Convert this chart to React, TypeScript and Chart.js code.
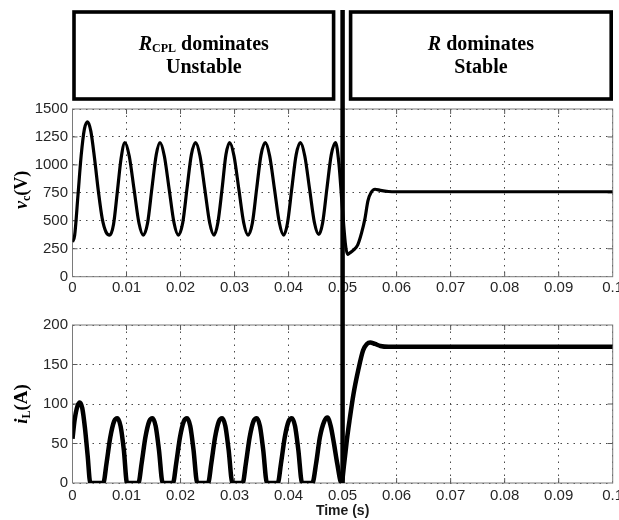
import { useEffect, useRef } from 'react';
import { Chart, registerables } from 'chart.js';

Chart.register(...registerables);

// Time axis (s)
const timeTicks = [0, 0.01, 0.02, 0.03, 0.04, 0.05, 0.06, 0.07, 0.08, 0.09, 0.1];
const timeTickLabels = ['0', '0.01', '0.02', '0.03', '0.04', '0.05', '0.06', '0.07', '0.08', '0.09', '0.1'];

// Capacitor voltage axis (V)
const vcTicks = [0, 250, 500, 750, 1000, 1250, 1500];
const vcTickLabels = ['0', '250', '500', '750', '1000', '1250', '1500'];

// Inductor current axis (A)
const iLTicks = [0, 50, 100, 150, 200];
const iLTickLabels = ['0', '50', '100', '150', '200'];

// Instant at which the load changes over
const switchTime = 0.05;

// Capacitor voltage v_c
const vcTime = [
  0, 0.0004, 0.001, 0.0016, 0.0022, 0.0028, 0.0034, 0.0041, 0.0048, 0.0055, 0.0062, 0.0069,
  0.0076, 0.0083, 0.009, 0.0097, 0.0105, 0.0114, 0.0123, 0.0131,
  0.0139, 0.0147, 0.0155, 0.0162, 0.017, 0.0179, 0.0188, 0.0196,
  0.0204, 0.0212, 0.022, 0.0228, 0.0236, 0.0245, 0.0254, 0.0262,
  0.0269, 0.0277, 0.0284, 0.0291, 0.0299, 0.0308, 0.0317, 0.0325,
  0.0333, 0.0341, 0.0349, 0.0357, 0.0365, 0.0374, 0.0383, 0.0391,
  0.0398, 0.0406, 0.0414, 0.0422, 0.043, 0.0439, 0.0448, 0.0456,
  0.0463, 0.0471, 0.0479, 0.0487, 0.0493, 0.0499, 0.0505, 0.0509,
  0.0513, 0.052, 0.0528, 0.0535, 0.0541, 0.0547, 0.0553, 0.056, 0.057, 0.0585, 0.06, 0.1,
];
const vcVolts = [
  310, 370, 720, 1080, 1320, 1385, 1300, 1050, 760, 520, 400, 372,
  470, 760, 1060, 1200, 1080, 780, 480, 372,
  480, 790, 1090, 1200, 1080, 780, 480, 372,
  480, 790, 1090, 1200, 1080, 780, 480, 372,
  480, 790, 1090, 1200, 1080, 780, 480, 372,
  480, 790, 1090, 1200, 1080, 780, 480, 372,
  480, 790, 1090, 1200, 1080, 780, 480, 378,
  480, 790, 1090, 1200, 1020, 650, 300, 200,
  212, 238, 285, 390, 510, 680, 755, 782, 772, 762, 760, 760,
];

// Inductor current i_L
const iLTime = [
  0, 0.0004, 0.0009, 0.00135, 0.0018, 0.0023, 0.0028, 0.0033, 0.0057,
  0.0063, 0.007, 0.0077, 0.0083, 0.0089, 0.0095, 0.0101, 0.0122,
  0.0128, 0.0135, 0.0142, 0.0148, 0.0154, 0.016, 0.0167, 0.0186,
  0.0192, 0.0199, 0.0206, 0.0212, 0.0218, 0.0224, 0.0231, 0.0251,
  0.0257, 0.0264, 0.0271, 0.0277, 0.0283, 0.0289, 0.0296, 0.0315,
  0.0321, 0.0328, 0.0335, 0.0341, 0.0347, 0.0353, 0.036, 0.038,
  0.0386, 0.0393, 0.04, 0.0406, 0.0412, 0.0418, 0.0425, 0.0444,
  0.0451, 0.0458, 0.0466, 0.0472, 0.0478, 0.0484, 0.049, 0.0498,
  0.0503, 0.0508, 0.0513, 0.052, 0.0529, 0.0538, 0.0545, 0.0551, 0.056, 0.057, 0.0585, 0.1,
];
const iLAmps = [
  56, 80, 97, 102, 95, 70, 35, 0, 0,
  25, 58, 78, 82, 72, 42, 0, 0,
  25, 58, 78, 82, 72, 42, 0, 0,
  25, 58, 78, 82, 72, 42, 0, 0,
  25, 58, 78, 82, 72, 42, 0, 0,
  25, 58, 78, 82, 72, 42, 0, 0,
  25, 58, 78, 82, 72, 42, 0, 0,
  25, 58, 78, 83, 72, 50, 25, 0,
  25, 55, 80, 112, 143, 168, 176, 178, 176, 173.5, 172.5, 172.5,
];

// Operating-region captions above the voltage plot
const regionSymbols = ['R', 'R'];
const regionSubscripts = ['CPL', ''];
const regionVerbs = [' dominates', ' dominates'];
const regionStates = ['Unstable', 'Stable'];

const serif = "'Liberation Serif', 'Times New Roman', serif";
const sans = "'Liberation Sans', Arial, sans-serif";

type Run = { text: string; font: string; dy?: number };

function drawRuns(ctx: CanvasRenderingContext2D, runs: Run[], cx: number, baseline: number) {
  let total = 0;
  const widths: number[] = [];
  for (const r of runs) {
    ctx.font = r.font;
    const w = ctx.measureText(r.text).width;
    widths.push(w);
    total += w;
  }
  let x = cx - total / 2;
  ctx.textAlign = 'left';
  ctx.textBaseline = 'alphabetic';
  runs.forEach((r, i) => {
    ctx.font = r.font;
    ctx.fillText(r.text, x, baseline + (r.dy || 0));
    x += widths[i];
  });
}

type DecorConfig = {
  id: string;
  yTicks: number[];
  title: Run[];
  titleX: number;
  titleShift: number;
  regions: boolean;
  lineTop: number;
  lineToCanvasBottom: boolean;
};

function decorPlugin(cfg: DecorConfig) {
  return {
    id: cfg.id,
    beforeDatasetsDraw(chart: any) {
      const { ctx, chartArea: a, scales } = chart;
      const xs = scales.x;
      const ys = scales.y;
      ctx.save();
      // plot box
      ctx.strokeStyle = '#7a7a7a';
      ctx.lineWidth = 1;
      ctx.strokeRect(a.left, a.top, a.right - a.left, a.bottom - a.top);
      // inward tick marks on all four sides
      ctx.strokeStyle = '#5a5a5a';
      ctx.beginPath();
      for (const t of timeTicks.slice(1, -1)) {
        const px = xs.getPixelForValue(t);
        ctx.moveTo(px, a.bottom);
        ctx.lineTo(px, a.bottom - 5);
        ctx.moveTo(px, a.top);
        ctx.lineTo(px, a.top + 5);
      }
      for (const v of cfg.yTicks.slice(1, -1)) {
        const py = ys.getPixelForValue(v);
        ctx.moveTo(a.left, py);
        ctx.lineTo(a.left + 5, py);
        ctx.moveTo(a.right, py);
        ctx.lineTo(a.right - 5, py);
      }
      ctx.stroke();
      ctx.restore();
    },
    afterDatasetsDraw(chart: any) {
      const { ctx, chartArea: a, scales } = chart;
      const xs = scales.x;
      const xSwitch = xs.getPixelForValue(switchTime);
      ctx.save();
      ctx.fillStyle = '#000';
      ctx.strokeStyle = '#000';

      // switching instant
      ctx.lineWidth = 4.5;
      ctx.beginPath();
      ctx.moveTo(xSwitch, cfg.lineTop);
      ctx.lineTo(xSwitch, cfg.lineToCanvasBottom ? chart.height : a.bottom);
      ctx.stroke();

      if (cfg.regions) {
        const x0 = xs.getPixelForValue(timeTicks[0]);
        const x1 = xs.getPixelForValue(timeTicks[timeTicks.length - 1]);
        const boxes = [
          [x0 + 1.5, xSwitch - 9],
          [xSwitch + 8, x1 - 1.5],
        ];
        ctx.lineWidth = 3.6;
        boxes.forEach(([l, r], i) => {
          ctx.strokeRect(l, 12, r - l, 87);
          const cx = (l + r) / 2;
          const line1: Run[] = [{ text: regionSymbols[i], font: `italic bold 20px ${serif}` }];
          if (regionSubscripts[i]) {
            line1.push({ text: regionSubscripts[i], font: `bold 12px ${serif}`, dy: 2 });
          }
          line1.push({ text: regionVerbs[i], font: `bold 20px ${serif}` });
          drawRuns(ctx, line1, cx, 50);
          drawRuns(ctx, [{ text: regionStates[i], font: `bold 20px ${serif}` }], cx, 73);
        });
      }

      // rotated y-axis title
      ctx.save();
      ctx.translate(cfg.titleX, (a.top + a.bottom) / 2 + cfg.titleShift);
      ctx.rotate(-Math.PI / 2);
      drawRuns(ctx, cfg.title, 0, 6);
      ctx.restore();

      ctx.restore();
    },
  };
}

const tickFont = { family: sans, size: 15, lineHeight: 1 };
const tickColor = '#262626';
const gridColor = '#4a4a4a';

function buildOptions(
  yTicks: number[],
  yLabels: string[],
  tickPad: number,
  xAxisHeight: number,
  pad: any,
  withTitle: boolean,
): any {
  return {
    responsive: false,
    animation: false,
    events: [],
    layout: { padding: pad },
    plugins: { legend: { display: false }, tooltip: { enabled: false } },
    elements: { point: { radius: 0 } },
    scales: {
      x: {
        type: 'linear',
        min: timeTicks[0],
        max: timeTicks[timeTicks.length - 1],
        afterBuildTicks: (s: any) => {
          s.ticks = timeTicks.map((v) => ({ value: v }));
        },
        afterFit: (s: any) => {
          s.height = xAxisHeight;
        },
        ticks: {
          font: tickFont,
          color: tickColor,
          padding: tickPad,
          maxRotation: 0,
          autoSkip: false,
          callback: (_v: any, i: number) => timeTickLabels[i],
        },
        grid: { color: gridColor, lineWidth: 1, drawTicks: false },
        border: { display: false, dash: [1.5, 5] },
        title: withTitle
          ? {
              display: true,
              text: 'Time (s)',
              font: { family: sans, size: 14, weight: 'bold', lineHeight: 1.2 },
              color: '#1a1a1a',
              padding: { top: 0, bottom: 0 },
            }
          : { display: false },
      },
      y: {
        type: 'linear',
        min: yTicks[0],
        max: yTicks[yTicks.length - 1],
        afterBuildTicks: (s: any) => {
          s.ticks = yTicks.map((v) => ({ value: v }));
        },
        afterFit: (s: any) => {
          s.width = 72.5;
        },
        ticks: {
          font: tickFont,
          color: tickColor,
          padding: 4.5,
          autoSkip: false,
          callback: (_v: any, i: number) => yLabels[i],
        },
        grid: { color: gridColor, lineWidth: 1, drawTicks: false },
        border: { display: false, dash: [1.5, 5] },
      },
    },
  };
}

export default function App() {
  const topRef = useRef<HTMLCanvasElement>(null);
  const bottomRef = useRef<HTMLCanvasElement>(null);

  useEffect(() => {
    const top = new Chart(topRef.current as HTMLCanvasElement, {
      type: 'line',
      data: {
        datasets: [
          {
            data: vcTime.map((t, i) => ({ x: t, y: vcVolts[i] })),
            borderColor: '#000',
            borderWidth: 3.2,
            cubicInterpolationMode: 'monotone',
            fill: false,
          },
        ],
      },
      options: buildOptions(vcTicks, vcTickLabels, 3.8, 23.3, { top: 109, left: 0, right: 27.3, bottom: 0 }, false),
      plugins: [
        decorPlugin({
          id: 'vcDecor',
          yTicks: vcTicks,
          title: [
            { text: 'v', font: `italic bold 18px ${serif}` },
            { text: 'c', font: `bold 12px ${serif}`, dy: 3 },
            { text: '(V)', font: `bold 18px ${serif}` },
          ],
          titleX: 21,
          titleShift: -3,
          regions: true,
          lineTop: 10,
          lineToCanvasBottom: true,
        }),
      ],
    } as any);

    const bottom = new Chart(bottomRef.current as HTMLCanvasElement, {
      type: 'line',
      data: {
        datasets: [
          {
            data: iLTime.map((t, i) => ({ x: t, y: iLAmps[i] })),
            borderColor: '#000',
            borderWidth: 4.5,
            cubicInterpolationMode: 'monotone',
            fill: false,
          },
        ],
      },
      options: buildOptions(iLTicks, iLTickLabels, 5.5, 37, { top: 25, left: 0, right: 27.3, bottom: 0 }, true),
      plugins: [
        decorPlugin({
          id: 'iLDecor',
          yTicks: iLTicks,
          title: [
            { text: 'i', font: `italic bold 19px ${serif}` },
            { text: 'L', font: `bold 12px ${serif}`, dy: 3 },
            { text: '(A)', font: `bold 19px ${serif}` },
          ],
          titleX: 21,
          titleShift: 0,
          regions: false,
          lineTop: 0,
          lineToCanvasBottom: false,
        }),
      ],
    } as any);

    return () => {
      top.destroy();
      bottom.destroy();
    };
  }, []);

  return (
    <div
      style={{
        position: 'fixed',
        left: 0,
        top: 0,
        width: 619,
        height: 520,
        overflow: 'hidden',
        background: '#fff',
      }}
    >
      <canvas ref={topRef} width={640} height={300} style={{ position: 'absolute', left: 0, top: 0 }} />
      <canvas ref={bottomRef} width={640} height={220} style={{ position: 'absolute', left: 0, top: 300 }} />
    </div>
  );
}
